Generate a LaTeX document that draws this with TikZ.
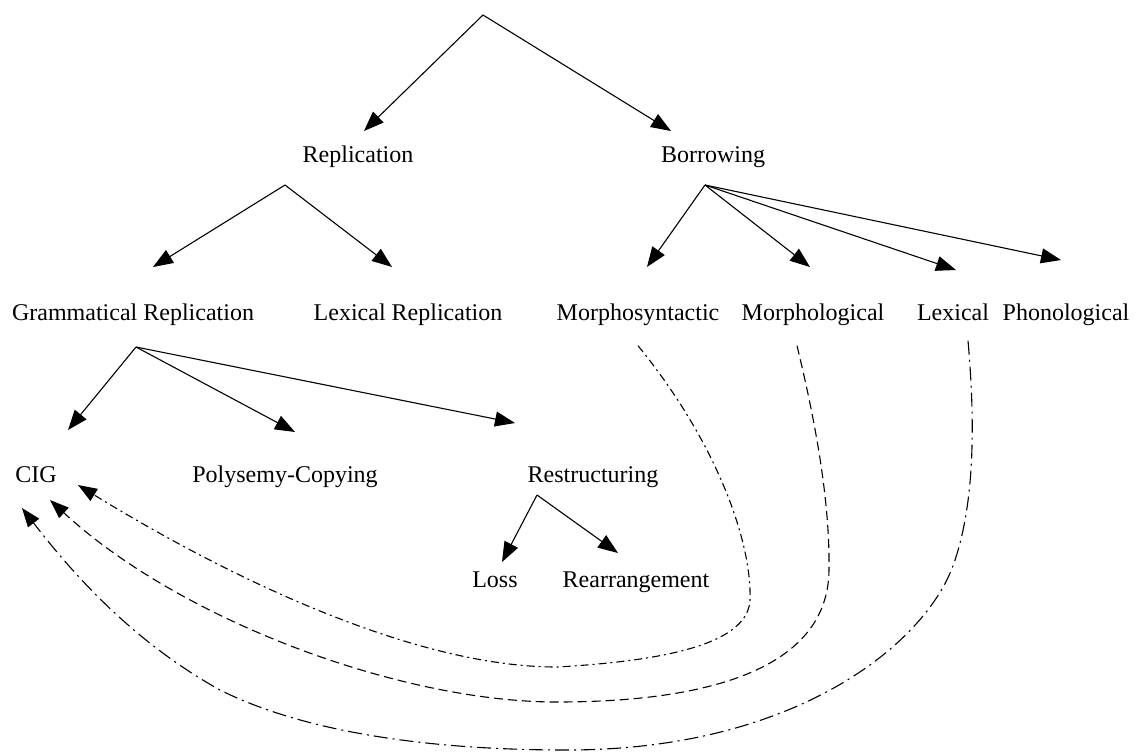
\documentclass[tikz,border=0pt]{standalone}
\usepackage{fontspec}
\setmainfont{Liberation Serif}
\usetikzlibrary{arrows.meta}

\begin{document}
\begin{tikzpicture}[x=1pt,y=-1pt,>={Triangle[length=20pt,width=15pt]},line width=1.1pt]
  \tikzstyle{lab}=[anchor=base,inner sep=0pt,font=\fontsize{24}{28}\selectfont]
  \tikzstyle{tree}=[->]
  \tikzstyle{link}=[->,>={Triangle[length=19pt,width=14pt]}]
  \useasboundingbox (0,0) rectangle (1138,753);
  % labels
  \node[lab] (repl) at (358,162) {Replication};
  \node[lab] (borr) at (713,162) {Borrowing};
  \node[lab] (gram) at (133,320) {Grammatical Replication};
  \node[lab] (lexr) at (408,320) {Lexical Replication};
  \node[lab] (msyn) at (638,320) {Morphosyntactic};
  \node[lab] (mphl) at (813,320) {Morphological};
  \node[lab] (lexb) at (953,320) {Lexical};
  \node[lab] (phon) at (1066,320) {Phonological};
  \node[lab] (cig) at (36,482) {CIG};
  \node[lab] (poly) at (285,482) {Polysemy-Copying};
  \node[lab] (restr) at (593,482) {Restructuring};
  \node[lab] (loss) at (495,587) {Loss};
  \node[lab] (rearr) at (636,587) {Rearrangement};
  % split points and arrow ends
  \coordinate (top) at (483,15);
  \coordinate (repl-s) at (285,185);
  \coordinate (borr-s) at (705,185);
  \coordinate (gram-s) at (136,347);
  \coordinate (restr-s) at (537,495);
  \coordinate (repl-t) at (364,131);
  \coordinate (borr-t) at (671,131);
  \coordinate (gram-t) at (153,267);
  \coordinate (lexr-t) at (392,267);
  \coordinate (msyn-t) at (647,267);
  \coordinate (mphl-t) at (810,267);
  \coordinate (lexb-t) at (956,270);
  \coordinate (phon-t) at (1061,260);
  \coordinate (cig-t) at (68,430);
  \coordinate (poly-t) at (295,432);
  \coordinate (restr-t) at (515,423);
  \coordinate (loss-t) at (502,562);
  \coordinate (rearr-t) at (618,553);
  \coordinate (cig-a) at (78,485);
  \coordinate (cig-b) at (50,500);
  \coordinate (cig-c) at (22,508);
  % tree
  \draw[tree] (top) -- (repl-t);
  \draw[tree] (top) -- (borr-t);
  \draw[tree] (repl-s) -- (gram-t);
  \draw[tree] (repl-s) -- (lexr-t);
  \draw[tree] (borr-s) -- (msyn-t);
  \draw[tree] (borr-s) -- (mphl-t);
  \draw[tree] (borr-s) -- (lexb-t);
  \draw[tree] (borr-s) -- (phon-t);
  \draw[tree] (gram-s) -- (cig-t);
  \draw[tree] (gram-s) -- (poly-t);
  \draw[tree] (gram-s) -- (restr-t);
  \draw[tree] (restr-s) -- (loss-t);
  \draw[tree] (restr-s) -- (rearr-t);
  % links back to CIG
  \draw[link,dash pattern=on 8pt off 4pt on 2pt off 4pt]
    ([xshift=0pt,yshift=-20pt]msyn.south) .. controls (715,440) and (752,540) .. (750,600)
    .. controls (748,640) and (680,660) .. (557,667)
    .. controls (400,667) and (200,560) .. (cig-a);
  \draw[link,dash pattern=on 9pt off 5pt]
    ([xshift=-16pt,yshift=-20pt]mphl.south) .. controls (815,420) and (830,500) .. (829,570)
    .. controls (828,680) and (680,702) .. (557,702)
    .. controls (400,702) and (180,620) .. (cig-b);
  \draw[link,dash pattern=on 14pt off 5pt on 2pt off 5pt]
    ([xshift=15pt,yshift=-20pt]lexb.south) .. controls (975,420) and (975,500) .. (955,560)
    .. controls (930,640) and (800,750) .. (567,750)
    .. controls (420,750) and (300,730) .. (220,690)
    .. controls (130,640) and (70,570) .. (cig-c);
\end{tikzpicture}
\end{document}
